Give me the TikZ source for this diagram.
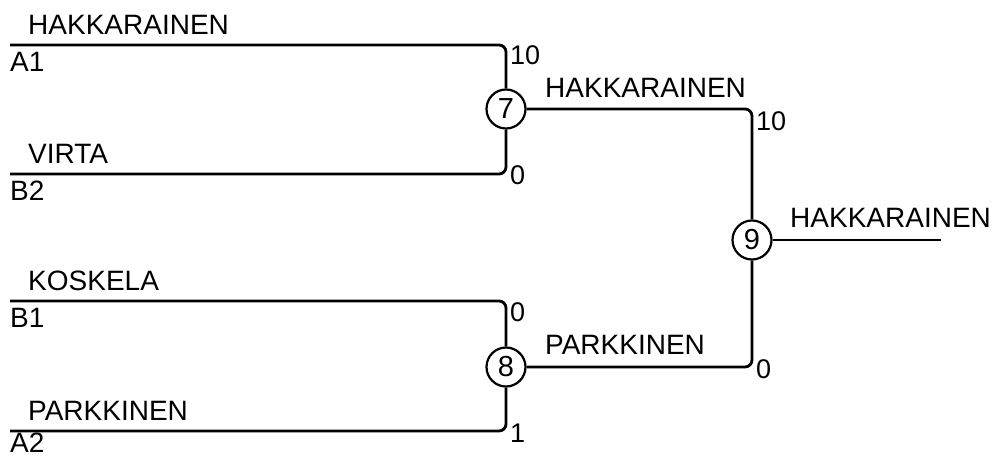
\documentclass[tikz,border=0pt]{standalone}
\usepackage{fontspec}
\setmainfont{Liberation Sans}
\begin{document}
\begin{tikzpicture}[x=1pt,y=-1pt,
  wire/.style={line width=2.8pt,rounded corners=7pt},
  game/.style={circle,draw,line width=2.2pt,minimum size=39pt,inner sep=0pt,font=\fontsize{29}{30}\selectfont},
  lbl/.style={anchor=base west,inner sep=0pt,font=\fontsize{28}{30}\selectfont},
  score/.style={anchor=base west,inner sep=0pt,font=\fontsize{27}{30}\selectfont}]
\useasboundingbox (0,0) rectangle (997,457);
\node[game] (g7) at (506,109) {7};
\node[game] (g8) at (506,367) {8};
\node[game] (g9) at (752,240) {9};
\coordinate (a1) at (10,45);
\coordinate (b2) at (10,174);
\coordinate (b1) at (10,301);
\coordinate (a2) at (10,431);
\coordinate (win) at (941,240);
\draw[wire] (a1) -| (g7);
\draw[wire] (b2) -| (g7);
\draw[wire] (b1) -| (g8);
\draw[wire] (a2) -| (g8);
\draw[wire] (g7) -| (g9);
\draw[wire] (g8) -| (g9);
\draw[wire] (g9) -- (win);
% names
\node[lbl] (n1) at (28,35) {HAKKARAINEN};
\node[lbl] (n2) at (10,72) {A1};
\node[lbl] (n3) at (28,164) {VIRTA};
\node[lbl] (n4) at (10,201) {B2};
\node[lbl] (n5) at (28,291) {KOSKELA};
\node[lbl] (n6) at (10,328) {B1};
\node[lbl] (n7) at (28,420) {PARKKINEN};
\node[lbl] (n8) at (10,452) {A2};
\node[lbl] (n9) at (545,98) {HAKKARAINEN};
\node[lbl] (n10) at (545,355) {PARKKINEN};
\node[lbl] (n11) at (790,228) {HAKKARAINEN};
% scores
\node[score] (s1) at (510,65) {10};
\node[score] (s2) at (510,185) {0};
\node[score] (s3) at (510,322) {0};
\node[score] (s4) at (510,442) {1};
\node[score] (s5) at (756,131) {10};
\node[score] (s6) at (756,378) {0};
\end{tikzpicture}
\end{document}
